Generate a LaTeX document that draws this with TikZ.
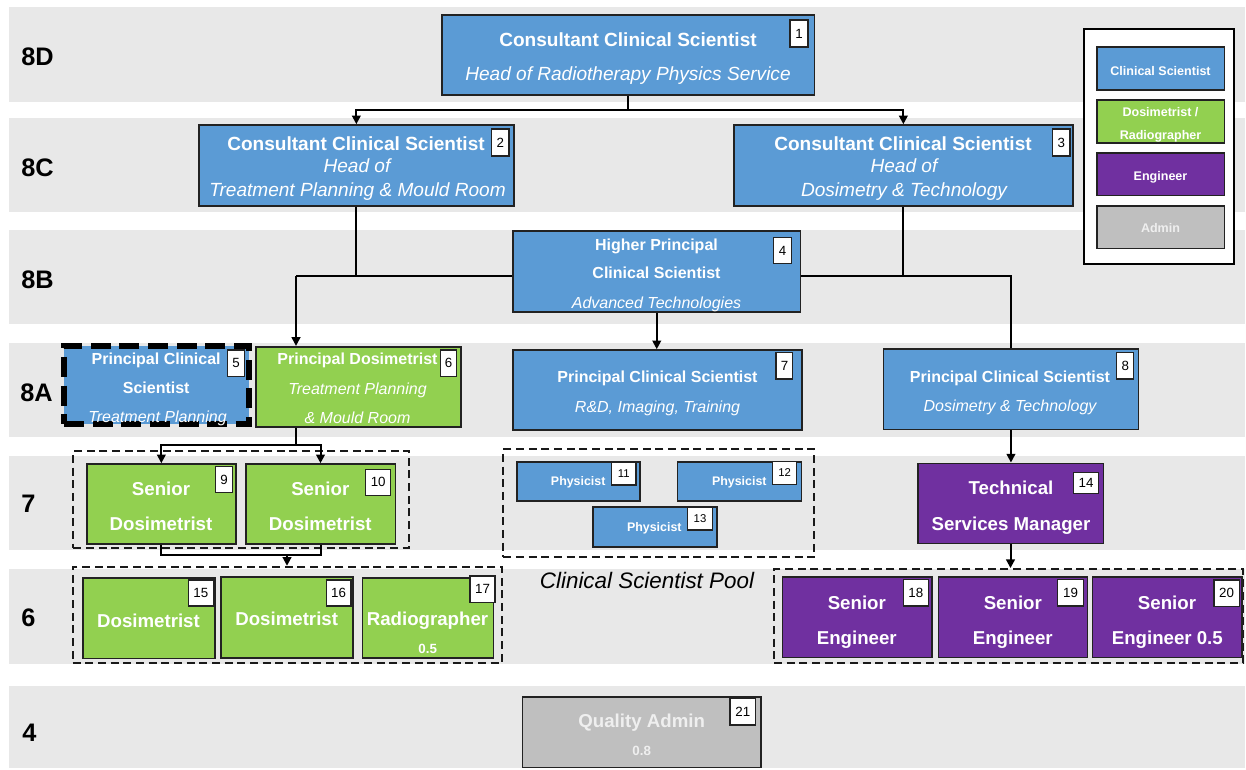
\documentclass[tikz,border=0pt]{standalone}
\usepackage{fontspec}
\setmainfont{Liberation Sans}
\usetikzlibrary{fit,arrows.meta,calc}
\definecolor{bandgrey}{HTML}{E8E8E8}
\definecolor{csblue}{HTML}{5B9BD5}
\definecolor{dosgreen}{HTML}{92D050}
\definecolor{engpurple}{HTML}{7030A0}
\definecolor{admgrey}{HTML}{BFBFBF}
\definecolor{admtext}{HTML}{EFEFEF}
\definecolor{boxline}{HTML}{222222}
\newcommand\rbox[6]{\path (#2,#3) coordinate (#1-a) (#4,#5) coordinate (#1-b); \node[#6, fit=(#1-a)(#1-b)] (#1) {};}
\newcommand\nbox[7]{\rbox{#1}{#2}{#3}{#4}{#5}{#6}\node[numtxt, #6font] (#1t) at (#1.center) {#7};}
\begin{document}
\begin{tikzpicture}[x=0.75pt,y=-0.75pt,
  band/.style={fill=bandgrey, draw=none, inner sep=0pt},
  box/.style={draw=boxline, line width=1.2pt, inner sep=0pt},
  cs/.style={box, fill=csblue},
  csdash/.style={fill=csblue, draw=black, line width=4.5pt, dash pattern=on 15pt off 6.5pt, inner sep=0pt},
  dos/.style={box, fill=dosgreen},
  eng/.style={box, fill=engpurple},
  adm/.style={box, fill=admgrey},
  legbox/.style={draw=black, fill=white, line width=1.3pt, inner sep=0pt},
  num/.style={draw=boxline, fill=white, line width=0.8pt, inner sep=0pt},
  nums/.style={num},
  numtxt/.style={inner sep=0pt, anchor=center, text=black},
  numfont/.style={font=\fontsize{10}{12}\selectfont},
  numsfont/.style={font=\fontsize{8.5}{10}\selectfont},
  grp/.style={draw=black!90, line width=1.4pt, dash pattern=on 6pt off 3.5pt, inner sep=0pt},
  t/.style={inner sep=0pt, anchor=base, text=white},
  bandlbl/.style={inner sep=0pt, anchor=base west, font=\fontsize{19}{22}\selectfont\bfseries},
  fA/.style={t, font=\fontsize{14.3}{17}\selectfont\bfseries},
  iA/.style={t, font=\fontsize{14.3}{17}\selectfont\itshape},
  fB/.style={t, font=\fontsize{12}{14}\selectfont\bfseries},
  iB/.style={t, font=\fontsize{12}{14}\selectfont\itshape},
  fC/.style={t, font=\fontsize{14}{17}\selectfont\bfseries},
  fP/.style={t, font=\fontsize{9.3}{11}\selectfont\bfseries},
  fL/.style={t, font=\fontsize{9.4}{11}\selectfont\bfseries},
  fS/.style={t, font=\fontsize{10}{12}\selectfont\bfseries},
  con/.style={line width=1.5pt, draw=black},
  arr/.style={con, -{Triangle[width=6.5pt,length=6.5pt]}}
]
\useasboundingbox (0,0) rectangle (1246,769);
% bands
\rbox{band8D}{9}{7}{1245}{102}{band}
\rbox{band8C}{9}{118}{1245}{212}{band}
\rbox{band8B}{9}{230}{1245}{324}{band}
\rbox{band8A}{9}{343}{1245}{437}{band}
\rbox{band7}{9}{456}{1245}{550}{band}
\rbox{band6}{9}{569}{1245}{664}{band}
\rbox{band4}{9}{686}{1245}{768}{band}
\node[bandlbl] (l8D) at (21,65.1) {8D};
\node[bandlbl] (l8C) at (21,176.1) {8C};
\node[bandlbl] (l8B) at (21,288.1) {8B};
\node[bandlbl] (l8A) at (20,401.1) {8A};
\node[bandlbl] (l7) at (21,512.1) {7};
\node[bandlbl] (l6) at (21,626.1) {6};
\node[bandlbl] (l4) at (22,741.1) {4};
% groups
\rbox{g7d}{73.3}{451}{409.3}{547.7}{grp}
\rbox{g7p}{503.3}{449.3}{814.3}{557.3}{grp}
\rbox{g6d}{72.7}{566.7}{501.7}{663.3}{grp}
\rbox{g6e}{774}{569}{1243.3}{662.7}{grp}
% boxes
\rbox{p1}{441.7}{14.7}{814.3}{95}{cs}
\rbox{p2}{199}{125}{513.7}{205.7}{cs}
\rbox{p3}{734}{125}{1072.7}{205.7}{cs}
\rbox{p4}{513}{231}{800.5}{311.7}{cs}
\rbox{p5}{64}{346.3}{249.3}{423.7}{csdash}
\rbox{p6}{255.7}{346.7}{460.7}{426.7}{dos}
\rbox{p7}{512.9}{350}{801.9}{430}{cs}
\rbox{p8}{883.3}{349}{1138.6}{429.3}{cs}
\rbox{p9}{86.7}{464}{236}{544}{dos}
\rbox{p10}{245.7}{464}{395.3}{544}{dos}
\rbox{p11}{516.7}{461.7}{640}{501}{cs}
\rbox{p12}{677.3}{461.7}{801.3}{501}{cs}
\rbox{p13}{592.7}{506.7}{716.7}{546.7}{cs}
\rbox{p14}{917.7}{463.3}{1103.3}{543.3}{eng}
\rbox{p15}{82.7}{577.7}{215}{658.3}{dos}
\rbox{p16}{220.7}{576.7}{352.7}{657.7}{dos}
\rbox{p17}{362.3}{577.7}{493.3}{657.7}{dos}
\rbox{p18}{782.3}{576.7}{931.7}{657.3}{eng}
\rbox{p19}{938.3}{576.7}{1087.3}{657.3}{eng}
\rbox{p20}{1092.3}{576.7}{1241.7}{657.3}{eng}
\rbox{p21}{522.3}{696.7}{760.7}{767.3}{adm}
% legend
\rbox{leg}{1084}{29}{1234}{264}{legbox}
\rbox{lg1}{1096.7}{47}{1224.3}{90}{cs}
\rbox{lg2}{1096.7}{100}{1224.3}{142.7}{dos}
\rbox{lg3}{1096.7}{152.7}{1224.3}{195.3}{eng}
\rbox{lg4}{1096.7}{205.7}{1224.3}{248.3}{adm}
\node[fL] (lt1) at (1160.5,75.2) {Clinical Scientist};
\node[fL] (lt2a) at (1160.5,116.2) {Dosimetrist /};
\node[fL] (lt2b) at (1160.5,139.5) {Radiographer};
\node[fL] (lt3) at (1160.5,180.2) {Engineer};
\node[fL, text=admtext] (lt4) at (1160.5,232.8) {Admin};
% numbers
\nbox{n1}{790}{20}{808}{47}{num}{1}
\nbox{n2}{491.7}{129}{509}{156}{num}{2}
\nbox{n3}{1052.7}{129}{1070}{156}{num}{3}
\nbox{n4}{773.8}{237.7}{791.4}{263.3}{num}{4}
\nbox{n5}{227.7}{350}{244.3}{376.7}{num}{5}
\nbox{n6}{440.7}{350}{456.7}{376.7}{num}{6}
\nbox{n7}{776}{352.7}{792.9}{379}{num}{7}
\nbox{n8}{1116.7}{352.7}{1133.8}{379}{num}{8}
\nbox{n9}{215.7}{466.7}{232.3}{492.7}{num}{9}
\nbox{n10}{365.7}{469.3}{390.7}{495.3}{num}{10}
\nbox{n11}{611.7}{462.3}{636}{485}{nums}{11}
\nbox{n12}{772.7}{461.7}{796.7}{484.3}{nums}{12}
\nbox{n13}{687.7}{507.7}{712.3}{530}{nums}{13}
\nbox{n14}{1073.3}{472.7}{1098.7}{493.3}{num}{14}
\nbox{n15}{188.3}{580}{213.3}{606}{num}{15}
\nbox{n16}{326.3}{580}{351}{606}{num}{16}
\nbox{n17}{470}{576}{495}{602.3}{num}{17}
\nbox{n18}{903.3}{579.3}{928.3}{606}{num}{18}
\nbox{n19}{1057.7}{579.3}{1083.3}{606}{num}{19}
\nbox{n20}{1214}{580}{1239.3}{606.7}{num}{20}
\nbox{n21}{730}{698.3}{755.7}{725}{num}{21}
% texts
\node[fA] (t1a) at (628,46.8) {Consultant Clinical Scientist};
\node[iA] (t1b) at (628,80.8) {Head of Radiotherapy Physics Service};
\node[fA] (t2a) at (356,150.8) {Consultant Clinical Scientist};
\node[iA] (t2b) at (357,172.3) {Head of};
\node[iA] (t2c) at (357.5,196.3) {Treatment Planning \& Mould Room};
\node[fA] (t3a) at (903,150.8) {Consultant Clinical Scientist};
\node[iA] (t3b) at (904,172.3) {Head of};
\node[iA] (t3c) at (904,196.3) {Dosimetry \& Technology};
\node[fB] (t4a) at (656.5,250.7) {Higher Principal};
\node[fB] (t4b) at (656.5,278.7) {Clinical Scientist};
\node[iB] (t4c) at (656.5,308.2) {Advanced Technologies};
\node[fB] (t5a) at (156.2,364.7) {Principal Clinical};
\node[fB] (t5b) at (156.2,393.2) {Scientist};
\node[iB] (t5c) at (157.5,422.4) {Treatment Planning};
\node[fB] (t6a) at (357.5,364.7) {Principal Dosimetrist};
\node[iB] (t6b) at (357.5,394.2) {Treatment Planning};
\node[iB] (t6c) at (357.5,423.2) {\& Mould Room};
\node[fB] (t7a) at (657.5,382.7) {Principal Clinical Scientist};
\node[iB] (t7b) at (657.5,412) {R\&D, Imaging, Training};
\node[fB] (t8a) at (1010,382) {Principal Clinical Scientist};
\node[iB] (t8b) at (1010,411.2) {Dosimetry \& Technology};
\node[fC] (t9a) at (161,495.7) {Senior};
\node[fC] (t9b) at (161,530) {Dosimetrist};
\node[fC] (t10a) at (320.3,495.7) {Senior};
\node[fC] (t10b) at (320.3,530) {Dosimetrist};
\node[fP] (t11) at (578.2,485.7) {Physicist};
\node[fP] (t12) at (739.3,485.1) {Physicist};
\node[fP] (t13) at (654.3,531.1) {Physicist};
\node[fC] (t14a) at (1011,494.5) {Technical};
\node[fC] (t14b) at (1011,530) {Services Manager};
\node[fC] (t15) at (148.5,627) {Dosimetrist};
\node[fC] (t16) at (286.7,625.9) {Dosimetrist};
\node[fC] (t17a) at (427.5,625.9) {Radiographer};
\node[fS] (t17b) at (427.7,653.8) {0.5};
\node[fC] (t18a) at (856.8,609.4) {Senior};
\node[fC] (t18b) at (856.8,644) {Engineer};
\node[fC] (t19a) at (1012.8,609.4) {Senior};
\node[fC] (t19b) at (1012.8,644) {Engineer};
\node[fC] (t20a) at (1167,609.4) {Senior};
\node[fC] (t20b) at (1167.3,644) {Engineer 0.5};
\node[t, text=black, font=\fontsize{16.8}{20}\selectfont\itshape] (pool) at (647,588.5) {Clinical Scientist Pool};
\node[fC, text=admtext] (t21a) at (641.7,727.9) {Quality Admin};
\node[fS, text=admtext] (t21b) at (641.7,755.8) {0.8};
% connectors
\coordinate (yA) at (0,110);
\coordinate (yB) at (0,276);
\coordinate (yC) at (0,445);
\coordinate (yD) at (0,555);
\coordinate (x296) at (296,0);
\coordinate (x287) at (287,0);
\draw[con] (p1.south) -- (p1.south |- yA);
\draw[arr] (p1.south |- yA) -| (p2.north);
\draw[arr] (p1.south |- yA) -| (p3.north);
\draw[con] (p2.south) -- (p2.south |- yB);
\draw[con] (x296 |- yB) -- (p4.west |- yB);
\draw[arr] (x296 |- yB) -- (x296 |- p6.north);
\draw[con] (p3.south) -- (p3.south |- yB);
\draw[con] (p4.east |- yB) -| (p8.north);
\draw[arr] (p4.south) -- (p4.south |- p7.north);
\draw[con] (x296 |- p6.south) -- (x296 |- yC);
\draw[arr] (x296 |- yC) -| (p9.north);
\draw[arr] (x296 |- yC) -| (p10.north);
\draw[con] (p9.south) |- (p10.south |- yD) -- (p10.south);
\draw[arr] (x287 |- yD) -- (x287 |- g6d.north);
\draw[arr] (p8.south) -- (p8.south |- p14.north);
\draw[arr] (p14.south) -- (p14.south |- g6e.north);
\end{tikzpicture}
\end{document}
